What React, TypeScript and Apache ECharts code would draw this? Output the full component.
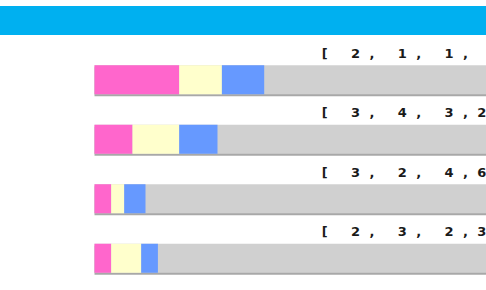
import React, { useEffect, useRef } from "react";
import * as echarts from "echarts";

const categories = ["row1", "row2", "row3", "row4"];
const pinkValues = [8.47, 3.8, 1.67, 1.67];
const yellowValues = [4.27, 4.67, 1.3, 3.0];
const blueValues = [4.23, 3.83, 2.13, 1.67];
const trackMax = 39.15;
const rowLabels = ["[ 2, 1, 1,", "[ 3, 4, 3,2", "[ 3, 2, 4,6", "[ 2, 3, 2,3"];

export default function App() {
  const ref = useRef<HTMLDivElement>(null);
  useEffect(() => {
    if (!ref.current) return;
    const chart = echarts.init(ref.current, null, { renderer: "svg" });
    const barWidth = 29;
    chart.setOption({
      animation: false,
      backgroundColor: "#ffffff",
      graphic: [
        {
          type: "rect",
          left: 0,
          top: 6,
          shape: { width: 486, height: 29 },
          style: { fill: "#00b0f0" },
        },
      ],
      grid: { left: 94.5, top: 50, right: 0, height: 238 },
      xAxis: { type: "value", min: 0, max: trackMax, show: false },
      yAxis: { type: "category", data: categories, inverse: true, show: false },
      series: [
        {
          type: "bar",
          name: "track",
          data: categories.map(() => trackMax),
          barWidth,
          barGap: "-100%",
          itemStyle: {
            color: "#d0d0d0",
            shadowColor: "#a8a8a8",
            shadowOffsetY: 2,
            shadowBlur: 0,
          },
          label: {
            show: true,
            position: [227.3, -12],
            verticalAlign: "middle",
            align: "left",
            fontFamily: "DejaVu Sans",
            fontWeight: "bold",
            fontSize: 13,
            color: "#1a1a1a",
            formatter: (p: any) => rowLabels[p.dataIndex],
          },
          silent: true,
          z: 1,
        },
        {
          type: "bar",
          name: "pink",
          stack: "s",
          data: pinkValues,
          barWidth,
          itemStyle: { color: "#ff66cc" },
          z: 2,
        },
        {
          type: "bar",
          name: "yellow",
          stack: "s",
          data: yellowValues,
          barWidth,
          itemStyle: { color: "#ffffcc" },
          z: 2,
        },
        {
          type: "bar",
          name: "blue",
          stack: "s",
          data: blueValues,
          barWidth,
          itemStyle: { color: "#6699ff" },
          z: 2,
        },
      ],
    });
    return () => chart.dispose();
  }, []);
  return (
    <div
      ref={ref}
      style={{
        position: "absolute",
        left: 0,
        top: 0,
        width: 486,
        height: 290,
        letterSpacing: "9.4px",
        overflow: "hidden",
      }}
    />
  );
}
